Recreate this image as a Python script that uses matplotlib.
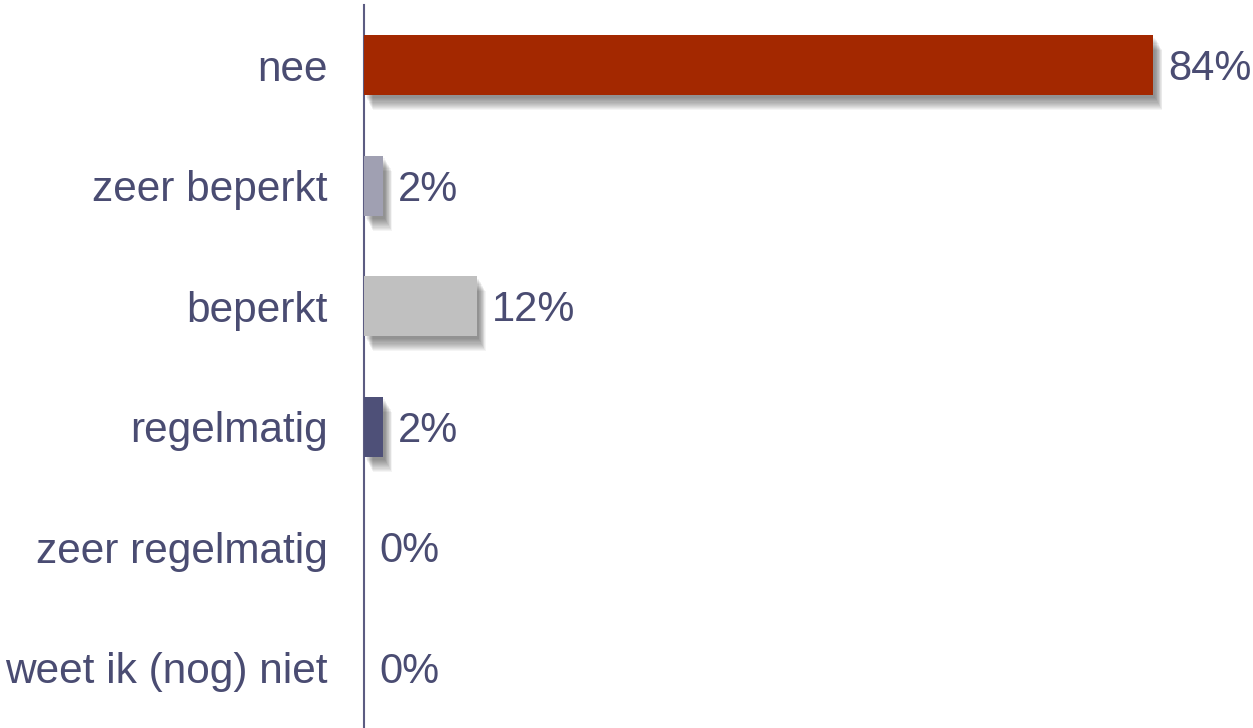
import matplotlib.pyplot as plt
import matplotlib.patheffects as pe

categories = ["nee", "zeer beperkt", "beperkt", "regelmatig", "zeer regelmatig", "weet ik (nog) niet"]
values = [84, 2, 12, 2, 0, 0]
colors = ["#a32800", "#a0a0b2", "#c0c0c0", "#4e5078", "#4e5078", "#4e5078"]
text_color = "#4a4c72"

plt.rcParams['font.family'] = ['Liberation Sans', 'DejaVu Sans']

fig = plt.figure(figsize=(12.53, 7.28), dpi=100)
ax = fig.add_axes([364 / 1253, 0, 889 / 1253, 723 / 728])

bars = ax.barh(range(len(categories)), values, height=0.5, color=colors, zorder=3)

# soft drop shadow made of stacked offset layers
shadow = [pe.SimplePatchShadow(offset=(1.5 + k * 0.45, -2 - k * 0.8), shadow_rgbFace="black", alpha=0.045)
          for k in range(12)]
for b, v in zip(bars, values):
    if v > 0:
        b.set_path_effects(shadow + [pe.Normal()])

lbls = ax.bar_label(bars, labels=[f"{v}%" for v in values], padding=11, fontsize=30, color=text_color)
for t in lbls:
    x0, y0 = t.xyann
    t.xyann = (x0, y0 - 3)

ax.set_xlim(0, 94.6)
ax.set_ylim(len(categories) - 0.5, -0.5)
ax.set_yticks(range(len(categories)))
ax.set_yticklabels(categories, fontsize=30.5, color=text_color)
ax.tick_params(axis='y', length=0, pad=26)
ax.set_xticks([])
for s in ["top", "right", "bottom"]:
    ax.spines[s].set_visible(False)
ax.spines["left"].set_color("#5c5c82")
ax.spines["left"].set_linewidth(1.5)

fig.savefig("out.png", dpi=100)
